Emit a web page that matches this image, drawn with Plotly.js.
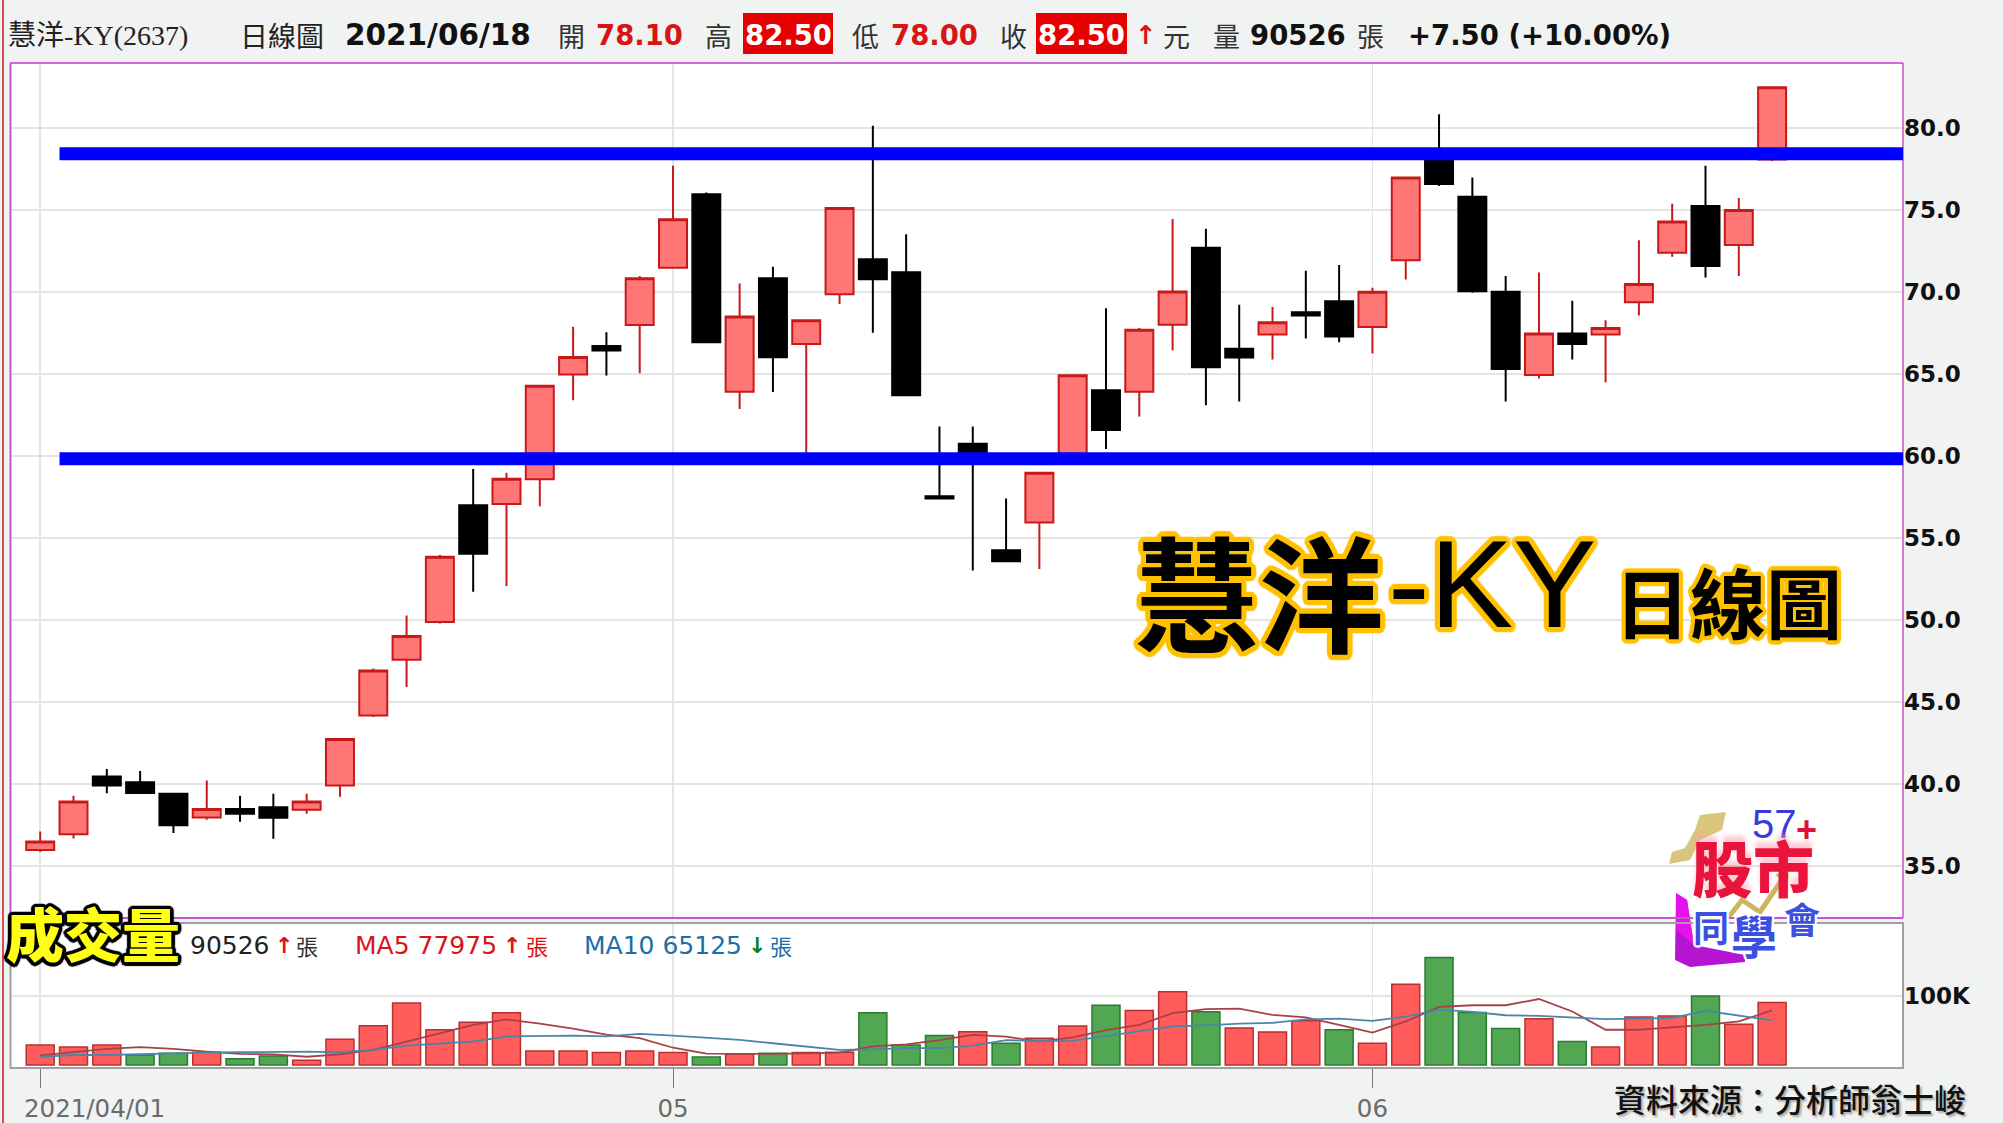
<!DOCTYPE html>
<html><head><meta charset="utf-8">
<script src="https://cdn.plot.ly/plotly-3.0.1.min.js"></script>
<style>html,body{margin:0;padding:0;background:#f1f2f2}#c{width:2003px;height:1123px}</style>
</head><body><div id="c"></div>
<script>
const openP=[36.0,36.95,40.47,40.12,39.42,37.98,38.49,38.6,38.45,39.93,44.2,47.6,49.9,57.02,57.09,58.6,64.98,66.73,68.0,71.5,75.98,63.94,70.85,66.85,69.88,72.01,71.22,57.56,60.77,54.27,55.96,60.0,64.03,63.94,68.02,72.72,66.55,67.43,68.79,69.46,67.89,71.96,78.1,75.83,70.03,64.96,67.49,67.43,69.4,72.41,75.26,72.88,78.1];
const highP=[37.12,39.3,40.94,40.82,39.42,40.24,39.3,39.42,39.42,42.77,47.06,50.3,53.98,59.23,59.0,64.3,67.9,67.57,71.0,77.72,76.08,70.53,71.56,68.29,75.14,80.16,73.54,61.81,61.81,57.42,59.0,64.94,69.02,67.83,74.47,73.88,69.24,69.11,71.31,71.66,70.27,77.0,80.85,77.0,70.99,71.21,69.48,68.3,73.18,75.4,77.72,75.75,82.5];
const lowP=[35.88,36.7,39.45,39.45,37.03,37.84,37.72,36.68,38.2,39.24,44.1,45.94,49.8,51.74,52.09,56.95,63.42,64.93,65.06,71.5,66.95,62.89,63.92,60.0,69.29,67.54,63.72,57.42,53.03,53.6,53.13,60.0,60.45,62.42,66.47,63.11,63.34,65.9,67.18,66.96,66.27,70.78,76.48,69.97,63.34,64.74,65.9,64.52,68.59,72.17,70.9,71.0,78.0];
const closeP=[36.51,38.96,39.93,39.47,37.51,38.49,38.21,37.96,38.96,42.77,46.94,49.04,53.88,54.06,58.63,64.3,66.05,66.45,70.85,74.45,66.95,68.52,66.04,68.29,75.14,70.79,63.72,57.42,60.0,53.6,59.0,64.94,61.6,67.72,70.05,65.43,66.02,68.18,68.59,67.3,70.03,77.0,76.6,70.07,65.33,67.49,66.84,67.83,70.5,74.32,71.6,75.02,82.5];
const volK=[29,26,29,14.5,17,18.4,9,13,6.8,37.4,56.8,89.8,51,62,75.7,20.4,20.4,18,20.4,18,11.7,16,17,18,18.4,75.7,29,42.7,48,31.4,38.6,56.5,86.5,78.7,106,77,53.6,47.8,64,51,31.4,117,155.6,76,53,67,34,26,69.6,71,100,59,90.5];
const volUp=[1,1,1,0,0,1,0,0,1,1,1,1,1,1,1,1,1,1,1,1,0,1,0,1,1,0,0,0,1,0,1,1,0,1,1,0,1,1,1,0,1,1,0,0,0,1,0,1,1,1,0,1,1];
const ma5K=[14,19,23.5,26,23.5,19.5,16,15.5,12,15.5,22,34,46,58,66,60,52.5,44,39,25,16.5,16,16,17,18,27,30,36,43.5,41,34,40,50.5,58,75,81,81.5,72.5,69,58,47,63,84,86.5,86.5,95.5,77.5,51,51,54.5,58,63,79];
const ma10K=[12,14.5,14.5,16,17,18,18.5,19,19.5,18.5,22,28,31,34,41.5,42.5,42.5,41.5,45,42.5,40,36.5,31.5,26.5,22,22.5,24.5,24.5,28,36,34.5,35,42,48,56,57.5,60,61,66,67,64,70,80,77,72,71,69,66.5,67,68,78.5,71,64.5];
const supportLevels=[78.45,59.85];
const priceTicks=[35,40,45,50,55,60,65,70,75,80];
const priceTickText=['35.0','40.0','45.0','50.0','55.0','60.0','65.0','70.0','75.0','80.0'];
const monthTickIdx=[0,19,40];
const monthTickText=['2021/04/01','05','06'];

const idx=openP.map((_,i)=>i);
const W=1893,H=1005,L=10,B=1068;
const fx=p=>(p-L)/W, fy=p=>(B-p)/H;
const CJK='"Noto Sans CJK TC",sans-serif', DV='"DejaVu Sans",sans-serif';
const SER='"Liberation Serif","Noto Sans CJK TC",serif';
const anns=[],shapes=[];
function T(x,y,text,size,color,o){o=o||{};anns.push({xref:'paper',yref:'paper',x:fx(x),y:fy(y),text:text,showarrow:false,xanchor:o.a||'left',yanchor:'middle',borderpad:0,borderwidth:0,
 font:{family:o.f||CJK,size:size,color:color,weight:o.w||400,shadow:o.s||'none'}});}
function rect(x0,y0,x1,y1,fill,line,lw){shapes.push({type:'rect',xref:'paper',yref:'paper',x0:fx(x0),x1:fx(x1),y0:fy(y0),y1:fy(y1),fillcolor:fill,line:{color:line||fill,width:lw===undefined?0:lw}});}
function pathShape(pts,fill,line,lw){const d=pts.map((p,i)=>(i?'L':'M')+fx(p[0]).toFixed(5)+','+fy(p[1]).toFixed(5)).join(' ')+(fill?' Z':'');
 shapes.push({type:'path',xref:'paper',yref:'paper',path:d,fillcolor:fill||'rgba(0,0,0,0)',line:{color:line||'rgba(0,0,0,0)',width:lw||0}});}
const hy=35, RED='#d81414';
T(8,hy,'慧洋-KY(2637)',28,'#222',{f:SER});
T(240,hy,'日線圖',28,'#222');
T(345,hy,'2021/06/18',29.5,'#111',{f:DV,w:700});
T(558,hy,'開',27,'#333');
T(596,hy,'78.10',27.5,RED,{f:DV,w:700});
T(705,hy,'高',27,'#333');
rect(743,13,833,54,'#e60000');
T(788,hy,'82.50',27.5,'#fff',{f:DV,w:700,a:'center'});
T(852,hy,'低',27,'#333');
T(891,hy,'78.00',27.5,RED,{f:DV,w:700});
T(1000,hy,'收',27,'#333');
rect(1036,13,1127,54,'#e60000');
T(1081,hy,'82.50',27.5,'#fff',{f:DV,w:700,a:'center'});
T(1135,hy,'↑',26,RED,{f:DV,w:700});
T(1163,hy,'元',27,'#333');
T(1213,hy,'量',27,'#333');
T(1250,hy,'90526',27.5,'#111',{f:DV,w:700});
T(1357,hy,'張',27,'#333');
T(1408,hy,'+7.50 (+10.00%)',27.5,'#111',{f:DV,w:700});

const ly=945;
T(190,ly,'90526',25,'#222',{f:DV});
T(275,ly,'↑',22,RED,{f:DV,w:700});
T(296,ly,'張',22,'#333');
T(355,ly,'MA5 77975',25,RED,{f:DV});
T(503,ly,'↑',22,RED,{f:DV,w:700});
T(526,ly,'張',22,RED);
T(584,ly,'MA10 65125',25,'#1b6ea8',{f:DV});
T(748,ly,'↓',22,'#0a7d1e',{f:DV,w:700});
T(770,ly,'張',22,'#1b6ea8');

const ol=(c,r)=>{const a=[];for(let k=0;k<16;k++){const t=k/16*2*Math.PI;a.push((r*Math.cos(t)).toFixed(1)+'px '+(r*Math.sin(t)).toFixed(1)+'px 1px '+c);}return a.join(',');};
T(6,932,'成交量',58,'#ffff14',{w:900,s:ol('#000',3.5)});
T(1134,588,'慧洋',125,'#000',{w:700,s:ol('#ffc000',5)});
T(1388,583,'-KY',125,'#000',{f:'"Liberation Sans",sans-serif',w:400,s:ol('#ffc000',5)});
T(1614,600,'日線圖',76,'#000',{w:700,s:ol('#ffc000',4)});
T(1614,1098,'資料來源：分析師翁士峻',32,'#111',{w:500,s:'2px 2px 2px #aaa'});

// 商標
pathShape([[1726,812],[1700,815],[1695,830],[1685,848],[1672,852],[1669,864],[1690,860],[1700,840],[1722,830]],'#d9c57c');
pathShape([[1676,893],[1687,900],[1694,945],[1745,955],[1745,962],[1690,967],[1675,960]],'#b515d0');
pathShape([[1676,893],[1687,900],[1694,945],[1676,930]],'#e612ee');
T(1752,824,'57',40,'#3a3ae0',{f:'"Liberation Sans",sans-serif'});
T(1796,829,'+',36,'#e0103c',{f:'"Liberation Sans",sans-serif',w:700});
T(1692,866,'股市',61,'#e8143c',{w:900,s:'0 -6px 4px rgba(255,150,170,.5)'});
pathShape([[1728,918],[1742,900],[1760,912],[1785,875]],null,'#cdb45e',5);
pathShape([[1775,874],[1789,874],[1787,888]],'#cdb45e');
T(1693,926,'同',36,'#3a50e0',{w:700,s:ol('#fff',2)});
T(1731,934,'學',46,'#3a50e0',{w:700,s:ol('#fff',2)});
T(1784,918,'會',36,'#3a50e0',{w:700,s:ol('#fff',2)});

// 框線
rect(2,0,4,1123,'#d65050');
shapes.push({type:'line',xref:'paper',yref:'paper',x0:fx(10),x1:fx(1903),y0:fy(63),y1:fy(63),line:{color:'#cf6fd6',width:2}});
shapes.push({type:'line',xref:'paper',yref:'paper',x0:fx(10),x1:fx(1903),y0:fy(918),y1:fy(918),line:{color:'#c455cc',width:2}});
shapes.push({type:'line',xref:'paper',yref:'paper',x0:fx(10.5),x1:fx(10.5),y0:fy(63),y1:fy(918),line:{color:'#c455cc',width:2}});
shapes.push({type:'line',xref:'paper',yref:'paper',x0:fx(1903),x1:fx(1903),y0:fy(63),y1:fy(918),line:{color:'#c455cc',width:1.5}});
shapes.push({type:'rect',xref:'paper',yref:'paper',x0:fx(10.5),x1:fx(1903),y0:fy(923),y1:fy(1068),line:{color:'#a0a0a0',width:2},fillcolor:'rgba(0,0,0,0)'});
supportLevels.forEach(v=>shapes.push({type:'line',xref:'x',yref:'y',x0:0.58,x1:55.93,y0:v,y1:v,line:{color:'#0000ff',width:13}}));
anns.push({xref:'x',yref:'paper',x:-0.5,y:fy(1108),text:monthTickText[0],showarrow:false,xanchor:'left',yanchor:'middle',borderpad:0,borderwidth:0,font:{family:DV,size:24.5,color:'#6b6b6b'}});

const traces=[
 {type:'candlestick',x:idx,open:openP,high:highP,low:lowP,close:closeP,xaxis:'x',yaxis:'y',whiskerwidth:0,
  increasing:{line:{color:'#c81818',width:2},fillcolor:'#ff7676'},
  decreasing:{line:{color:'#000',width:2},fillcolor:'#000'},showlegend:false,hoverinfo:'none'},
 {type:'bar',x:idx,y:volK,xaxis:'x',yaxis:'y2',width:0.84,showlegend:false,hoverinfo:'none',
  marker:{color:volUp.map(u=>u?'#ff5c5c':'#52a852'),line:{color:volUp.map(u=>u?'#b83030':'#2a7a34'),width:1.5}}},
 {type:'scatter',mode:'lines',x:idx,y:ma5K,xaxis:'x',yaxis:'y2',line:{color:'#a84048',width:1.8},showlegend:false,hoverinfo:'none'},
 {type:'scatter',mode:'lines',x:idx,y:ma10K,xaxis:'x',yaxis:'y2',line:{color:'#4a86a8',width:1.8},showlegend:false,hoverinfo:'none'}
];
const layout={
 width:2003,height:1123,margin:{l:L,r:2003-L-W,t:63,b:1123-B,pad:0},
 paper_bgcolor:'#f1f2f2',plot_bgcolor:'#fff',showlegend:false,dragmode:false,hovermode:false,
 boxgap:0,boxgroupgap:0.16,bargap:0,
 xaxis:{domain:[0,1],range:[-0.907,55.93],anchor:'y2',type:'linear',tickmode:'array',tickvals:monthTickIdx,ticktext:['',monthTickText[1],monthTickText[2]],
  ticks:'outside',ticklen:19,tickwidth:1,tickcolor:'#777',showgrid:true,gridcolor:'#e4e4e4',gridwidth:1.5,zeroline:false,showline:false,
  tickfont:{family:DV,size:24.5,color:'#6b6b6b'},rangeslider:{visible:false}},
 yaxis:{domain:[fy(918),1],range:[31.85,83.98],side:'right',anchor:'x',tickmode:'array',tickvals:priceTicks,ticktext:priceTickText,
  gridcolor:'#e4e4e4',gridwidth:2,zeroline:false,showline:false,ticks:'',tickfont:{family:DV,size:23,color:'#111',weight:700}},
 yaxis2:{domain:[0,fy(924)],range:[-4.3,204],side:'right',anchor:'x',tickmode:'array',tickvals:[100],ticktext:['100K'],
  gridcolor:'#e4e4e4',gridwidth:2,zeroline:false,showline:false,ticks:'',tickfont:{family:DV,size:23,color:'#111',weight:700}},
 annotations:anns,shapes:shapes
};
Plotly.newPlot('c',traces,layout,{displayModeBar:false,staticPlot:true});
</script></body></html>
